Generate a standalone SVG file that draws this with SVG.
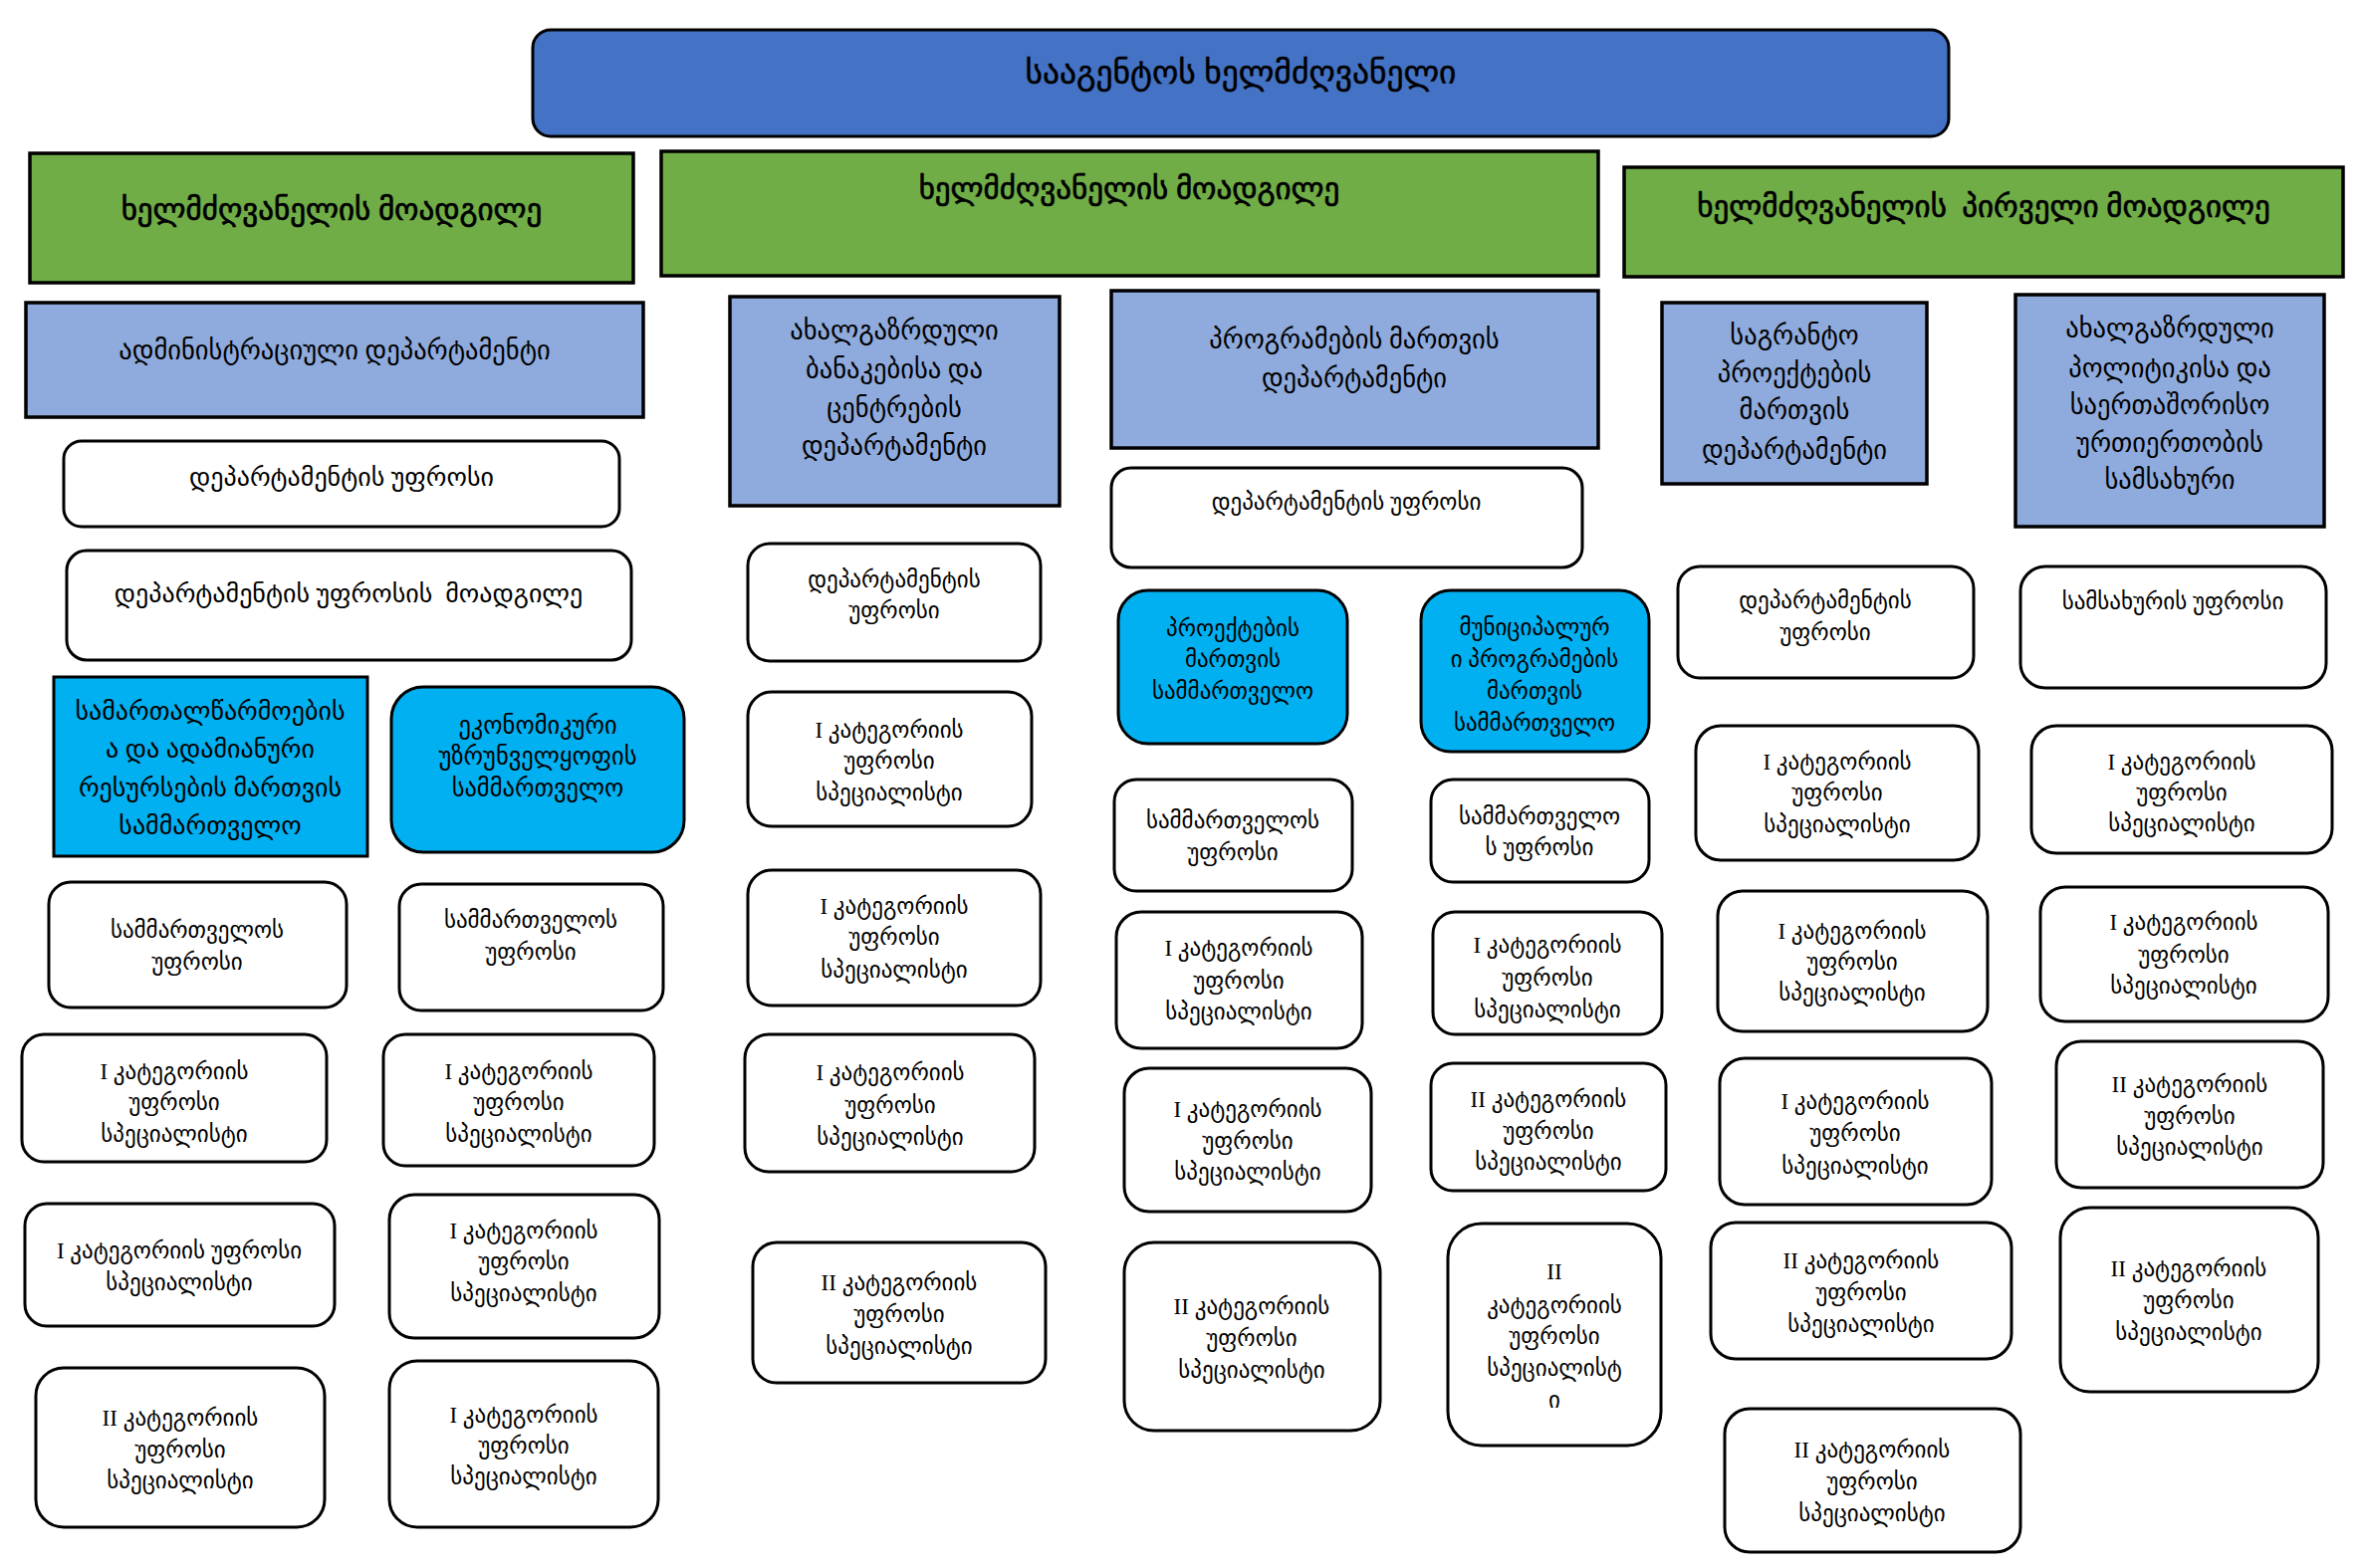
<svg xmlns="http://www.w3.org/2000/svg" width="2376" height="1575" viewBox="0 0 2376 1575">
<style>
.w{fill:#fff;stroke:#000;stroke-width:3}
.d{fill:#8FAADC;stroke:#000;stroke-width:3.5}
.g{fill:#70AD47;stroke:#000;stroke-width:3.5}
.c{fill:#00B0F0;stroke:#000;stroke-width:3}
.b{fill:#4472C4;stroke:#000;stroke-width:3}
text{font-family:"Liberation Serif","DejaVu Sans",sans-serif;font-size:23px;text-anchor:middle;fill:#000}
.m{font-size:26px}
.n{font-size:24.5px}
.l{font-size:26.5px}
.h{font-size:31px;stroke:#000;stroke-width:0.7}
.t{font-size:33.5px;stroke:#000;stroke-width:0.5}
</style>
<rect width="2376" height="1575" fill="#fff"/>
<g id="connectors"/>
<g id="top"><rect class="b" x="535" y="30" width="1422" height="107" rx="18"/><text class="t" x="1246" y="84">სააგენტოს ხელმძღვანელი</text></g>
<g id="dep1"><rect class="g" x="30" y="154" width="606" height="130"/><text class="h" x="333" y="221">ხელმძღვანელის მოადგილე</text></g>
<g id="dep2"><rect class="g" x="664" y="152" width="941" height="125"/><text class="h" x="1134" y="200">ხელმძღვანელის მოადგილე</text></g>
<g id="dep3"><rect class="g" x="1631" y="168" width="722" height="110"/><text class="h" x="1992" y="218" xml:space="preserve">ხელმძღვანელის  პირველი მოადგილე</text></g>

<g id="d1"><rect class="d" x="26" y="304" width="620" height="115"/><text class="l" x="336" y="361">ადმინისტრაციული დეპარტამენტი</text></g>
<g id="d2"><rect class="d" x="733" y="298" width="331" height="210"/><text class="l"><tspan x="898" y="341">ახალგაზრდული</tspan><tspan x="898" y="380">ბანაკებისა და</tspan><tspan x="898" y="419">ცენტრების</tspan><tspan x="898" y="457">დეპარტამენტი</tspan></text></g>
<g id="d3"><rect class="d" x="1116" y="292" width="489" height="158"/><text class="l"><tspan x="1360" y="350">პროგრამების მართვის</tspan><tspan x="1360" y="389">დეპარტამენტი</tspan></text></g>
<g id="d4"><rect class="d" x="1669" y="304" width="266" height="182"/><text class="l"><tspan x="1802" y="346">საგრანტო</tspan><tspan x="1802" y="384">პროექტების</tspan><tspan x="1802" y="421">მართვის</tspan><tspan x="1802" y="461">დეპარტამენტი</tspan></text></g>
<g id="d5"><rect class="d" x="2024" y="296" width="310" height="233"/><text class="l"><tspan x="2179" y="339">ახალგაზრდული</tspan><tspan x="2179" y="379">პოლიტიკისა და</tspan><tspan x="2179" y="416">საერთაშორისო</tspan><tspan x="2179" y="454">ურთიერთობის</tspan><tspan x="2179" y="491">სამსახური</tspan></text></g>

<g id="a1"><rect class="w" x="64" y="443" width="558" height="86" rx="18"/><text class="m" x="343" y="488">დეპარტამენტის უფროსი</text></g>
<g id="a2"><rect class="w" x="67" y="553" width="567" height="110" rx="20"/><text class="m" x="350" y="605" xml:space="preserve">დეპარტამენტის უფროსის  მოადგილე</text></g>
<g id="s1"><rect class="c" x="54" y="680" width="315" height="180"/><text class="m"><tspan x="211" y="723">სამართალწარმოების</tspan><tspan x="211" y="761">ა და ადამიანური</tspan><tspan x="211" y="800">რესურსების მართვის</tspan><tspan x="211" y="838">სამმართველო</tspan></text></g>
<g id="s2"><rect class="c" x="393" y="690" width="294" height="166" rx="32"/><text class="n"><tspan x="540" y="737">ეკონომიკური</tspan><tspan x="540" y="768">უზრუნველყოფის</tspan><tspan x="540" y="800">სამმართველო</tspan></text></g>
<g id="s1h"><rect class="w" x="49" y="886" width="299" height="126" rx="22"/><text><tspan x="198" y="942">სამმართველოს</tspan><tspan x="198" y="974">უფროსი</tspan></text></g>
<g id="s2h"><rect class="w" x="401" y="888" width="265" height="127" rx="22"/><text><tspan x="533" y="932">სამმართველოს</tspan><tspan x="533" y="964">უფროსი</tspan></text></g>
<g id="L1"><rect class="w" x="22" y="1039" width="306" height="128" rx="22"/><text><tspan x="175" y="1084">I კატეგორიის</tspan><tspan x="175" y="1115">უფროსი</tspan><tspan x="175" y="1147">სპეციალისტი</tspan></text></g>
<g id="R1"><rect class="w" x="385" y="1039" width="272" height="132" rx="22"/><text><tspan x="521" y="1084">I კატეგორიის</tspan><tspan x="521" y="1115">უფროსი</tspan><tspan x="521" y="1147">სპეციალისტი</tspan></text></g>
<g id="L2"><rect class="w" x="25" y="1209" width="311" height="123" rx="22"/><text><tspan x="180" y="1264">I კატეგორიის უფროსი</tspan><tspan x="180" y="1296">სპეციალისტი</tspan></text></g>
<g id="R2"><rect class="w" x="391" y="1200" width="271" height="144" rx="25"/><text><tspan x="526" y="1244">I კატეგორიის</tspan><tspan x="526" y="1275">უფროსი</tspan><tspan x="526" y="1307">სპეციალისტი</tspan></text></g>
<g id="L3"><rect class="w" x="36" y="1374" width="290" height="160" rx="28"/><text><tspan x="181" y="1432">II კატეგორიის</tspan><tspan x="181" y="1464">უფროსი</tspan><tspan x="181" y="1495">სპეციალისტი</tspan></text></g>
<g id="R3"><rect class="w" x="391" y="1367" width="270" height="167" rx="28"/><text><tspan x="526" y="1429">I კატეგორიის</tspan><tspan x="526" y="1460">უფროსი</tspan><tspan x="526" y="1491">სპეციალისტი</tspan></text></g>

<g id="b1"><rect class="w" x="751" y="546" width="294" height="118" rx="22"/><text><tspan x="898" y="590">დეპარტამენტის</tspan><tspan x="898" y="621">უფროსი</tspan></text></g>
<g id="b2"><rect class="w" x="751" y="695" width="285" height="135" rx="24"/><text><tspan x="893" y="741">I კატეგორიის</tspan><tspan x="893" y="772">უფროსი</tspan><tspan x="893" y="804">სპეციალისტი</tspan></text></g>
<g id="b3"><rect class="w" x="751" y="874" width="294" height="136" rx="24"/><text><tspan x="898" y="918">I კატეგორიის</tspan><tspan x="898" y="949">უფროსი</tspan><tspan x="898" y="982">სპეციალისტი</tspan></text></g>
<g id="b4"><rect class="w" x="748" y="1039" width="291" height="138" rx="24"/><text><tspan x="894" y="1085">I კატეგორიის</tspan><tspan x="894" y="1118">უფროსი</tspan><tspan x="894" y="1150">სპეციალისტი</tspan></text></g>
<g id="b5"><rect class="w" x="756" y="1248" width="294" height="141" rx="24"/><text><tspan x="903" y="1296">II კატეგორიის</tspan><tspan x="903" y="1328">უფროსი</tspan><tspan x="903" y="1360">სპეციალისტი</tspan></text></g>

<g id="c0"><rect class="w" x="1116" y="470" width="473" height="100" rx="20"/><text x="1352" y="512">დეპარტამენტის უფროსი</text></g>
<g id="c1"><rect class="c" x="1123" y="593" width="230" height="154" rx="30"/><text><tspan x="1238" y="639">პროექტების</tspan><tspan x="1238" y="670">მართვის</tspan><tspan x="1238" y="702">სამმართველო</tspan></text></g>
<g id="c2"><rect class="c" x="1427" y="593" width="229" height="162" rx="30"/><text><tspan x="1541" y="638">მუნიციპალურ</tspan><tspan x="1541" y="670">ი პროგრამების</tspan><tspan x="1541" y="702">მართვის</tspan><tspan x="1541" y="734">სამმართველო</tspan></text></g>
<g id="c3"><rect class="w" x="1119" y="783" width="239" height="112" rx="22"/><text><tspan x="1238" y="832">სამმართველოს</tspan><tspan x="1238" y="864">უფროსი</tspan></text></g>
<g id="c4"><rect class="w" x="1437" y="783" width="219" height="103" rx="22"/><text><tspan x="1546" y="828">სამმართველო</tspan><tspan x="1546" y="859">ს უფროსი</tspan></text></g>
<g id="c5"><rect class="w" x="1121" y="916" width="247" height="137" rx="25"/><text><tspan x="1244" y="960">I კატეგორიის</tspan><tspan x="1244" y="993">უფროსი</tspan><tspan x="1244" y="1024">სპეციალისტი</tspan></text></g>
<g id="c6"><rect class="w" x="1439" y="916" width="230" height="123" rx="22"/><text><tspan x="1554" y="957">I კატეგორიის</tspan><tspan x="1554" y="990">უფროსი</tspan><tspan x="1554" y="1022">სპეციალისტი</tspan></text></g>
<g id="c7"><rect class="w" x="1129" y="1073" width="248" height="144" rx="25"/><text><tspan x="1253" y="1122">I კატეგორიის</tspan><tspan x="1253" y="1154">უფროსი</tspan><tspan x="1253" y="1185">სპეციალისტი</tspan></text></g>
<g id="c8"><rect class="w" x="1437" y="1068" width="236" height="128" rx="22"/><text><tspan x="1555" y="1112">II კატეგორიის</tspan><tspan x="1555" y="1144">უფროსი</tspan><tspan x="1555" y="1175">სპეციალისტი</tspan></text></g>
<g id="c9"><rect class="w" x="1129" y="1248" width="257" height="189" rx="30"/><text><tspan x="1257" y="1320">II კატეგორიის</tspan><tspan x="1257" y="1352">უფროსი</tspan><tspan x="1257" y="1384">სპეციალისტი</tspan></text></g>
<g id="c10"><rect class="w" x="1454" y="1229" width="214" height="223" rx="34"/><text><tspan x="1561" y="1285">II</tspan><tspan x="1561" y="1319">კატეგორიის</tspan><tspan x="1561" y="1350">უფროსი</tspan><tspan x="1561" y="1382">სპეციალისტ</tspan><tspan x="1561" y="1414">ი</tspan></text></g>

<g id="e0"><rect class="w" x="1685" y="569" width="297" height="112" rx="22"/><text><tspan x="1833" y="611">დეპარტამენტის</tspan><tspan x="1833" y="643">უფროსი</tspan></text></g>
<g id="e1"><rect class="w" x="1703" y="729" width="284" height="135" rx="25"/><text><tspan x="1845" y="773">I კატეგორიის</tspan><tspan x="1845" y="804">უფროსი</tspan><tspan x="1845" y="836">სპეციალისტი</tspan></text></g>
<g id="e2"><rect class="w" x="1725" y="895" width="271" height="141" rx="25"/><text><tspan x="1860" y="943">I კატეგორიის</tspan><tspan x="1860" y="974">უფროსი</tspan><tspan x="1860" y="1005">სპეციალისტი</tspan></text></g>
<g id="e3"><rect class="w" x="1727" y="1063" width="273" height="147" rx="25"/><text><tspan x="1863" y="1114">I კატეგორიის</tspan><tspan x="1863" y="1146">უფროსი</tspan><tspan x="1863" y="1179">სპეციალისტი</tspan></text></g>
<g id="e4"><rect class="w" x="1718" y="1228" width="302" height="137" rx="25"/><text><tspan x="1869" y="1274">II კატეგორიის</tspan><tspan x="1869" y="1306">უფროსი</tspan><tspan x="1869" y="1338">სპეციალისტი</tspan></text></g>
<g id="e5"><rect class="w" x="1732" y="1415" width="297" height="144" rx="25"/><text><tspan x="1880" y="1464">II კატეგორიის</tspan><tspan x="1880" y="1496">უფროსი</tspan><tspan x="1880" y="1528">სპეციალისტი</tspan></text></g>

<g id="f0"><rect class="w" x="2029" y="569" width="307" height="122" rx="25"/><text x="2182" y="612">სამსახურის უფროსი</text></g>
<g id="f1"><rect class="w" x="2040" y="729" width="302" height="128" rx="25"/><text><tspan x="2191" y="773">I კატეგორიის</tspan><tspan x="2191" y="804">უფროსი</tspan><tspan x="2191" y="835">სპეციალისტი</tspan></text></g>
<g id="f2"><rect class="w" x="2049" y="891" width="289" height="135" rx="25"/><text><tspan x="2193" y="934">I კატეგორიის</tspan><tspan x="2193" y="967">უფროსი</tspan><tspan x="2193" y="998">სპეციალისტი</tspan></text></g>
<g id="f3"><rect class="w" x="2065" y="1046" width="268" height="147" rx="25"/><text><tspan x="2199" y="1097">II კატეგორიის</tspan><tspan x="2199" y="1129">უფროსი</tspan><tspan x="2199" y="1160">სპეციალისტი</tspan></text></g>
<g id="f4"><rect class="w" x="2069" y="1213" width="259" height="185" rx="30"/><text><tspan x="2198" y="1282">II კატეგორიის</tspan><tspan x="2198" y="1314">უფროსი</tspan><tspan x="2198" y="1346">სპეციალისტი</tspan></text></g>
</svg>
